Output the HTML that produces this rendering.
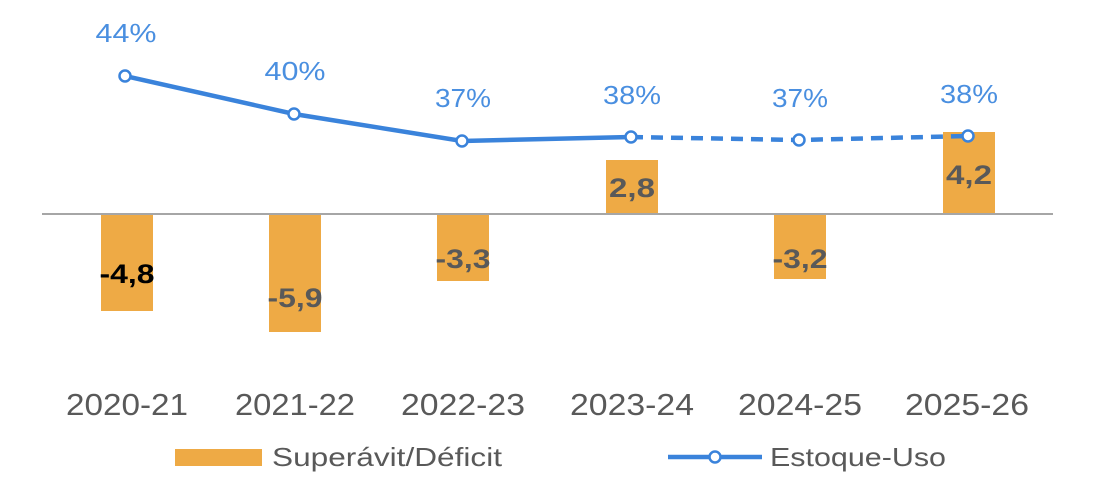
<!DOCTYPE html>
<html><head><meta charset="utf-8"><style>
body{margin:0;background:#fff}
svg{display:block;font-family:"Liberation Sans",sans-serif}
</style></head><body>
<svg width="1103" height="486" viewBox="0 0 1103 486">
<g fill="#EEAA45">
<rect x="101" y="214" width="52" height="97"/>
<rect x="269" y="214" width="52" height="118"/>
<rect x="437" y="214" width="52" height="67"/>
<rect x="606" y="160" width="52" height="54"/>
<rect x="774" y="214" width="52" height="65"/>
<rect x="943" y="132" width="52" height="82"/>
</g>
<line x1="42" y1="214" x2="1053" y2="214" stroke="#A6A6A6" stroke-width="2"/>
<g font-size="27" font-weight="bold" fill="#595959" text-anchor="middle">
<text x="127" y="283" fill="#000" textLength="55" lengthAdjust="spacingAndGlyphs">-4,8</text>
<text x="295" y="307" textLength="55" lengthAdjust="spacingAndGlyphs">-5,9</text>
<text x="463" y="268" textLength="55" lengthAdjust="spacingAndGlyphs">-3,3</text>
<text x="632" y="197" textLength="46" lengthAdjust="spacingAndGlyphs">2,8</text>
<text x="800" y="268" textLength="55" lengthAdjust="spacingAndGlyphs">-3,2</text>
<text x="969" y="184" textLength="46" lengthAdjust="spacingAndGlyphs">4,2</text>
</g>
<polyline points="125,76 294,114 462,141 631,137" fill="none" stroke="#3A83DB" stroke-width="4.5"/>
<polyline points="631,137 799,140 968,136" fill="none" stroke="#3A83DB" stroke-width="4.5" stroke-dasharray="12,8"/>
<g fill="#fff" stroke="#3A83DB" stroke-width="2.5">
<circle cx="125" cy="76" r="5.5"/><circle cx="294" cy="114" r="5.5"/><circle cx="462" cy="141" r="5.5"/>
<circle cx="631" cy="137" r="5.5"/><circle cx="799" cy="140" r="5.5"/><circle cx="968" cy="136" r="5.5"/>
</g>
<g font-size="26" fill="#4A8FE0" text-anchor="middle">
<text x="126" y="42" textLength="61" lengthAdjust="spacingAndGlyphs">44%</text>
<text x="295" y="80" textLength="61" lengthAdjust="spacingAndGlyphs">40%</text>
<text x="463" y="107" textLength="56" lengthAdjust="spacingAndGlyphs">37%</text>
<text x="632" y="104" textLength="58" lengthAdjust="spacingAndGlyphs">38%</text>
<text x="800" y="107" textLength="56" lengthAdjust="spacingAndGlyphs">37%</text>
<text x="969" y="103" textLength="58" lengthAdjust="spacingAndGlyphs">38%</text>
</g>
<g font-size="31" fill="#595959" text-anchor="middle">
<text x="127" y="415" textLength="122" lengthAdjust="spacingAndGlyphs">2020-21</text>
<text x="295" y="415" textLength="120" lengthAdjust="spacingAndGlyphs">2021-22</text>
<text x="463" y="415" textLength="124" lengthAdjust="spacingAndGlyphs">2022-23</text>
<text x="632" y="415" textLength="124" lengthAdjust="spacingAndGlyphs">2023-24</text>
<text x="800" y="415" textLength="124" lengthAdjust="spacingAndGlyphs">2024-25</text>
<text x="967" y="415" textLength="124" lengthAdjust="spacingAndGlyphs">2025-26</text>
</g>
<rect x="175" y="449" width="87" height="17" fill="#EEAA45"/>
<text x="272" y="466" font-size="26" fill="#595959" textLength="230" lengthAdjust="spacingAndGlyphs">Superávit/Déficit</text>
<line x1="668" y1="457" x2="762" y2="457" stroke="#3A83DB" stroke-width="4.5"/>
<circle cx="715" cy="457" r="5.5" fill="#fff" stroke="#3A83DB" stroke-width="2.5"/>
<text x="770" y="466" font-size="26" fill="#595959" textLength="176" lengthAdjust="spacingAndGlyphs">Estoque-Uso</text>
</svg>
</body></html>
